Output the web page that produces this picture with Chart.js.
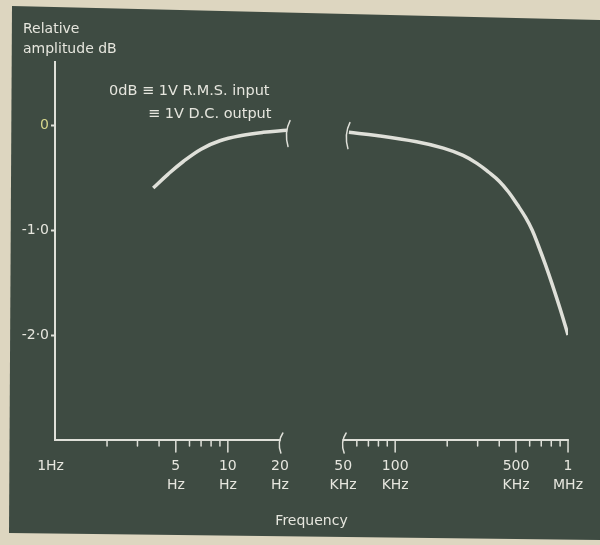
<!DOCTYPE html>
<html>
<head>
<meta charset="utf-8">
<title>Relative amplitude vs frequency</title>
<script src="https://cdn.jsdelivr.net/npm/chart.js@4"></script>
<style>
  html, body { margin: 0; padding: 0; background: #ddd6c0; }
  #wrap { width: 600px; height: 545px; }
</style>
</head>
<body>
<div id="wrap"><canvas id="respChart" width="600" height="545"></canvas></div>
<script>
// === DATA ===
// low band curve (Hz) and high band curve (Hz), values in dB
var lowFreqs = [3.7, 4.5, 5.5, 7, 9, 12, 16, 22];
var lowDb    = [-0.60, -0.47, -0.35, -0.23, -0.15, -0.10, -0.07, -0.05];
var highFreqs = [54e3, 78e3, 133e3, 190e3, 247e3, 300e3, 348e3, 400e3, 454e3, 510e3, 568e3, 620e3, 674e3, 740e3, 811e3, 900e3, 1e6];
var highDb    = [-0.07, -0.10, -0.16, -0.22, -0.29, -0.37, -0.45, -0.535, -0.64, -0.76, -0.88, -1.00, -1.15, -1.33, -1.52, -1.75, -2.0];

var yTicks  = [0, -1, -2];
var yLabels = ['0', '-1·0', '-2·0'];

var xLabelFreqs = [1, 5, 10, 20, 50e3, 100e3, 500e3, 1e6];
var xLabels = [['1Hz  '], ['5', 'Hz'], ['10', 'Hz'], ['20', 'Hz'], ['50', 'KHz'], ['100', 'KHz'], ['500', 'KHz'], ['1', 'MHz']];
var majorFreqs = [5, 10, 100e3, 500e3, 1e6];
var minorFreqs = [2, 3, 4, 6, 7, 8, 9, 60e3, 70e3, 80e3, 90e3, 200e3, 300e3, 400e3, 600e3, 700e3, 800e3, 900e3];

// === STYLE ===
var TEXT = '#e6e6de';
var LINE = '#dfe0d9';
var ZERO = '#d6d68c';
var FONT = '"DejaVu Sans", sans-serif';

// Broken log axis: 1..20 Hz, gap, 50 kHz..1 MHz
var LOW_END = 20, HIGH_START = 50e3, GAP = 0.366;
function axisPos(f) {
  if (f < 1000) return Math.log10(f);
  return Math.log10(LOW_END) + GAP + Math.log10(f / HIGH_START);
}

function toPoints(freqs, vals) {
  return freqs.map(function(f, i) { return { x: axisPos(f), y: vals[i] }; });
}

// breaks drawn as little "(" strokes
function breakMark(ctx, x, y, h) {
  ctx.beginPath();
  ctx.moveTo(x + 3, y - h * 0.45);
  ctx.quadraticCurveTo(x - 3, y, x + 1, y + h * 0.55);
  ctx.stroke();
}

var boardPlugin = {
  id: 'board',
  beforeDraw: function(chart) {
    var ctx = chart.ctx;
    ctx.save();
    ctx.fillStyle = '#ddd6c0';
    ctx.fillRect(0, 0, chart.width, chart.height);
    ctx.fillStyle = '#3e4b42';
    ctx.beginPath();
    ctx.moveTo(12, 6);
    ctx.lineTo(600, 20);
    ctx.lineTo(600, 540);
    ctx.lineTo(9, 533);
    ctx.closePath();
    ctx.fill();
    ctx.restore();
  },
  afterDraw: function(chart) {
    var ctx = chart.ctx;
    var xs = chart.scales.x, ys = chart.scales.y;
    var yAxis = chart.chartArea.bottom;
    ctx.save();
    ctx.strokeStyle = LINE;
    ctx.lineCap = 'round';

    // x axis in two pieces
    ctx.lineWidth = 2;
    ctx.beginPath();
    ctx.moveTo(xs.left, yAxis);
    ctx.lineTo(xs.getPixelForValue(axisPos(LOW_END)), yAxis);
    ctx.moveTo(xs.getPixelForValue(axisPos(HIGH_START)), yAxis);
    ctx.lineTo(xs.getPixelForValue(axisPos(1e6)), yAxis);
    ctx.stroke();

    // tick marks
    ctx.lineWidth = 1.5;
    ctx.beginPath();
    majorFreqs.forEach(function(f) {
      var px = xs.getPixelForValue(axisPos(f));
      ctx.moveTo(px, yAxis); ctx.lineTo(px, yAxis + 12);
    });
    minorFreqs.forEach(function(f) {
      var px = xs.getPixelForValue(axisPos(f));
      ctx.moveTo(px, yAxis); ctx.lineTo(px, yAxis + 6);
    });
    ctx.stroke();

    // axis break marks
    breakMark(ctx, xs.getPixelForValue(axisPos(LOW_END)), yAxis + 2, 20);
    breakMark(ctx, xs.getPixelForValue(axisPos(HIGH_START)), yAxis + 2, 20);

    // curve break marks
    var lx = xs.getPixelForValue(axisPos(lowFreqs[lowFreqs.length - 1]));
    var ly = ys.getPixelForValue(lowDb[lowDb.length - 1]);
    var hx = xs.getPixelForValue(axisPos(highFreqs[0]));
    var hy = ys.getPixelForValue(highDb[0]);
    breakMark(ctx, lx, ly + 2, 26);
    breakMark(ctx, hx - 2, hy + 2, 26);

    // annotations
    ctx.fillStyle = TEXT;
    ctx.textBaseline = 'alphabetic';
    ctx.font = '14px ' + FONT;
    ctx.fillText('Relative', 23, 33);
    ctx.fillText('amplitude dB', 23, 53);
    ctx.font = '14.5px ' + FONT;
    ctx.fillText('0dB \u2261 1V R.M.S. input', 109, 95);
    ctx.fillText('\u2261 1V D.C. output', 148, 118);
    ctx.restore();
  }
};

var ctx = document.getElementById('respChart').getContext('2d');
var respChart = new Chart(ctx, {
  type: 'line',
  data: {
    datasets: [
      {
        label: 'Low band',
        data: toPoints(lowFreqs, lowDb),
        borderColor: LINE, borderWidth: 3.5, pointRadius: 0,
        fill: false, tension: 0.4
      },
      {
        label: 'High band',
        data: toPoints(highFreqs, highDb),
        borderColor: LINE, borderWidth: 3.5, pointRadius: 0,
        fill: false, tension: 0.4
      }
    ]
  },
  options: {
    responsive: false, animation: false,
    layout: { padding: { top: 62, right: 27, left: 0, bottom: 0 } },
    plugins: { legend: { display: false }, tooltip: { enabled: false } },
    scales: {
      x: {
        type: 'linear', min: 0, max: axisPos(1e6),
        afterFit: function(s) { s.height = 105; },
        afterBuildTicks: function(s) {
          s.ticks = xLabelFreqs.map(function(f) { return { value: axisPos(f) }; });
        },
        grid: { display: false, drawTicks: false },
        border: { display: false },
        ticks: {
          autoSkip: false, maxRotation: 0, minRotation: 0, padding: 17, color: TEXT,
          font: { family: FONT, size: 14, lineHeight: 1.35 },
          callback: function(v, i) { return xLabels[i]; }
        },
        title: {
          display: true, text: 'Frequency', color: TEXT,
          font: { family: FONT, size: 14 }, padding: { top: 0, bottom: 15 }
        }
      },
      y: {
        min: -3, max: 0.6,
        afterFit: function(s) { s.width = 55; },
        afterBuildTicks: function(s) {
          s.ticks = yTicks.map(function(v) { return { value: v }; });
        },
        grid: { drawOnChartArea: false, drawTicks: true, tickLength: 4, tickColor: LINE, tickWidth: 2 },
        border: { display: true, color: LINE, width: 2 },
        ticks: {
          padding: 2,
          color: function(c) { return c.tick && c.tick.value === 0 ? ZERO : TEXT; },
          font: { family: FONT, size: 14 },
          callback: function(v, i) { return yLabels[i]; }
        }
      }
    }
  },
  plugins: [boardPlugin]
});
</script>
</body>
</html>
